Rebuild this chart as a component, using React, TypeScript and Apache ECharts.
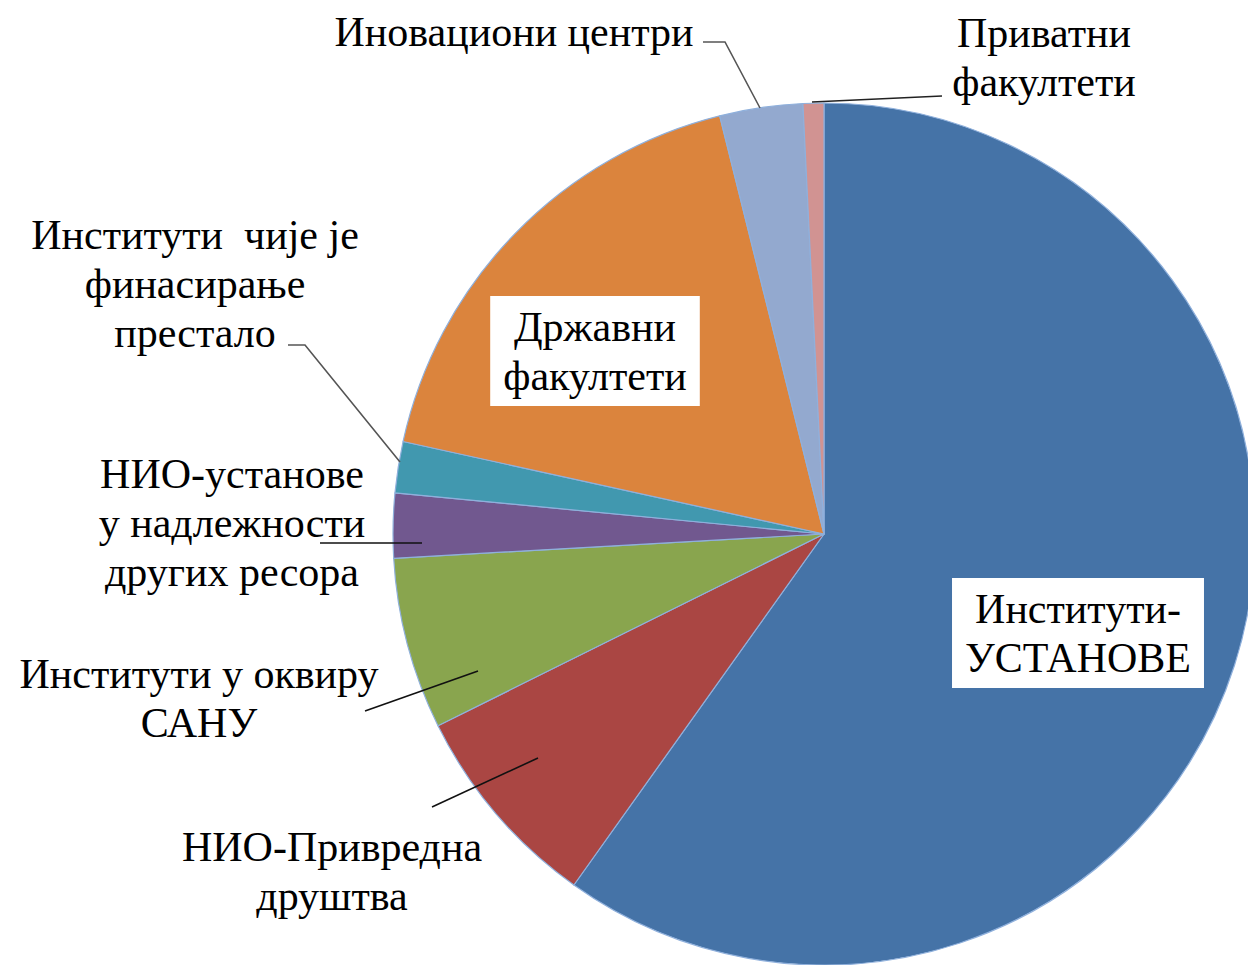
import React, { useEffect, useRef } from 'react';
import * as echarts from 'echarts';

// Categories (full names) in clockwise order starting at 12 o'clock
const categories: string[] = [
  'Институти-УСТАНОВЕ',
  'НИО-Привредна друштва',
  'Институти у оквиру САНУ',
  'НИО-установе у надлежности других ресора',
  'Институти чије је финасирање престало',
  'Државни факултети',
  'Иновациони центри',
  'Приватни факултети',
];

// Label texts with the line breaks used in the picture
const labelTexts: string[] = [
  'Институти-\nУСТАНОВЕ',
  'НИО-Привредна\nдруштва',
  'Институти у оквиру\nСАНУ',
  'НИО-установе\nу надлежности\nдругих ресора',
  'Институти  чије је\nфинасирање\nпрестало',
  'Државни\nфакултети',
  'Иновациони центри',
  'Приватни\nфакултети',
];

// Shares (%)
const shares: number[] = [59.86, 7.81, 6.44, 2.42, 1.92, 17.67, 3.11, 0.78];

const colors: string[] = [
  '#4573A7', '#AA4643', '#89A54E', '#71588F', '#4198AF', '#DB843D', '#93A9CF', '#D19392',
];

const insideLabel: boolean[] = [true, false, false, false, false, true, false, false];

// Label anchor (centre) positions in px
const labelCenters: number[][] = [
  [1078, 633],
  [332, 871],
  [199, 698],
  [232, 523],
  [195, 284],
  [595, 351],
  [514, 32],
  [1044, 57],
];

// Leader line polylines in px
const leaderLines: (number[][] | null)[] = [
  null,
  [[538, 758], [432, 807]],
  [[478, 671], [365, 711]],
  [[422, 543], [320, 543]],
  [[400, 462], [305, 345], [288, 345]],
  null,
  [[760, 108], [725, 42], [703, 42]],
  [[812, 102], [942, 96]],
];
const leaderColors: string[] = ['#000', '#111', '#111', '#111', '#555', '#000', '#555', '#222'];

const FONT = "'Liberation Serif', 'Times New Roman', serif";

export default function App() {
  const ref = useRef<HTMLDivElement>(null);

  useEffect(() => {
    if (!ref.current) return;
    const chart = echarts.init(ref.current, undefined, { renderer: 'svg' });

    const data = categories.map((name, i) => ({
      name,
      value: shares[i],
      itemStyle: { color: colors[i] },
      label: insideLabel[i]
        ? {
            position: 'inside',
            backgroundColor: '#ffffff',
            padding: [6, 13, 6, 13],
          }
        : { position: 'outside' },
    }));

    const lines = leaderLines
      .map((pts, i) =>
        pts
          ? {
              type: 'polyline',
              z: 100,
              silent: true,
              shape: { points: pts },
              style: { stroke: leaderColors[i], lineWidth: 1.6, fill: null },
            }
          : null
      )
      .filter(Boolean);

    chart.setOption({
      animation: false,
      backgroundColor: '#ffffff',
      graphic: lines,
      series: [
        {
          type: 'pie',
          center: [824, 534],
          radius: 431,
          startAngle: 90,
          clockwise: true,
          avoidLabelOverlap: false,
          silent: true,
          itemStyle: { borderColor: '#8fb0dc', borderWidth: 1.2 },
          label: {
            show: true,
            color: '#000',
            fontFamily: FONT,
            fontSize: 42,
            lineHeight: 49,
            formatter: (p: any) => labelTexts[p.dataIndex],
          },
          labelLine: { show: false },
          labelLayout: (p: any) => {
            const c = labelCenters[p.dataIndex];
            return {
              x: c[0],
              y: c[1],
              align: 'center',
              verticalAlign: 'middle',
              hideOverlap: false,
            };
          },
          emphasis: { disabled: true },
          data,
        },
      ],
    });

    return () => chart.dispose();
  }, []);

  return (
    <div
      ref={ref}
      style={{ position: 'absolute', left: 0, top: 0, width: 1248, height: 965 }}
    />
  );
}
